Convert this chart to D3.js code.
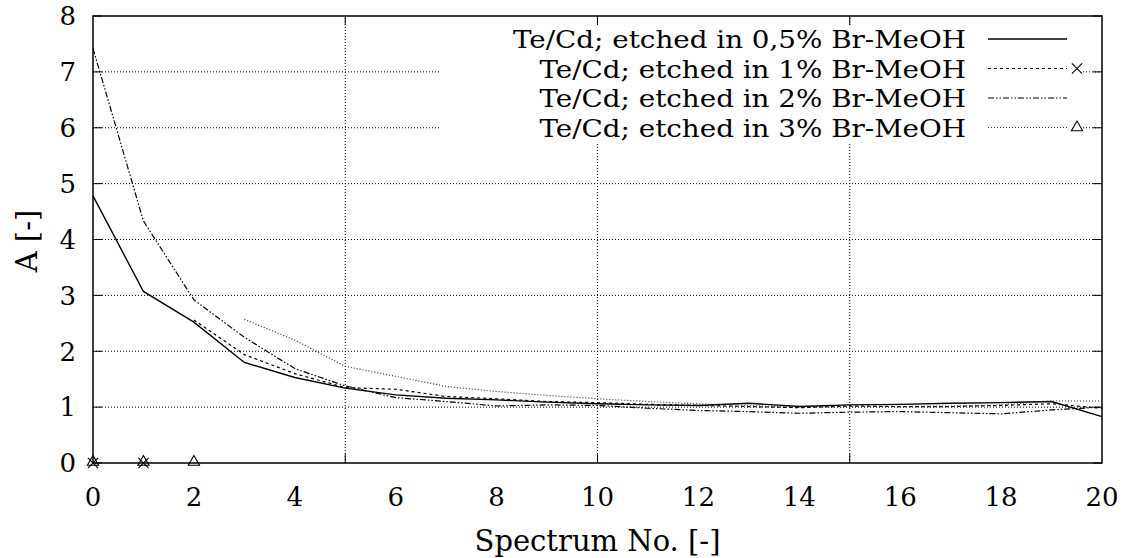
<!DOCTYPE html>
<html>
<head>
<meta charset="utf-8">
<script src="https://cdn.jsdelivr.net/npm/d3@7"></script>
<style>
  body { margin: 0; background: #fff; }
  text { font-family: "DejaVu Serif", serif; fill: #000; }
</style>
</head>
<body>
<svg id="chart" width="1126" height="558"></svg>
<script>
// spectrum numbers (x) and A for each etch
var spectrum = [0, 1, 2, 3, 4, 5, 6, 7, 8, 9, 10, 11, 12, 13, 14, 15, 16, 17, 18, 19, 20];

var a05 = [4.78, 3.07, 2.52, 1.80, 1.53, 1.34, 1.22, 1.16, 1.13, 1.09, 1.06, 1.04, 1.03, 1.07, 1.01, 1.04, 1.05, 1.07, 1.08, 1.10, 0.83];
var a1  = [null, null, 2.56, 1.94, 1.60, 1.35, 1.32, 1.19, 1.15, 1.10, 1.08, 1.05, 1.03, 1.01, 0.99, 1.02, 1.01, 1.01, 1.03, 1.06, 0.98];
var a2  = [7.42, 4.33, 2.92, 2.25, 1.69, 1.38, 1.17, 1.10, 1.02, 1.04, 1.03, 0.98, 0.94, 0.92, 0.89, 0.91, 0.92, 0.90, 0.88, 0.95, 1.00];
var a3  = [null, null, null, 2.57, 2.20, 1.73, 1.55, 1.37, 1.28, 1.21, 1.15, 1.10, 1.06, 1.03, 1.00, 1.00, 1.01, 1.02, 1.04, 1.11, 1.11];

// points that came out as zero
var zeroCross = [0, 1];
var zeroTri   = [0, 1, 2];

var legendNames = [
  "Te/Cd; etched in 0,5% Br-MeOH",
  "Te/Cd; etched in 1% Br-MeOH",
  "Te/Cd; etched in 2% Br-MeOH",
  "Te/Cd; etched in 3% Br-MeOH"
];

var xLabelTicks = [0, 2, 4, 6, 8, 10, 12, 14, 16, 18, 20];
var xGridTicks = [5, 10, 15];
var yTicks = [0, 1, 2, 3, 4, 5, 6, 7, 8];

var svg = d3.select("#chart");
var margin = {left: 93, right: 24, top: 16, bottom: 95};
var width = 1126, height = 558;
var x0 = margin.left, x1 = width - margin.right;
var y0 = height - margin.bottom, y1 = margin.top;

var x = d3.scaleLinear().domain([0, 20]).range([x0, x1]);
var y = d3.scaleLinear().domain([0, 8]).range([y0, y1]);

var tickSize = 26, labelSize = 29, keySize = 25;

// grid
var grid = svg.append("g").attr("class", "grid")
  .attr("stroke", "#000").attr("stroke-width", 1).attr("stroke-dasharray", "1,2");

grid.selectAll(".gx").data(xGridTicks).enter().append("line")
  .attr("x1", function(d){ return x(d); }).attr("x2", function(d){ return x(d); })
  .attr("y1", y0).attr("y2", y1);

grid.selectAll(".gy").data(yTicks.slice(1, 8)).enter().append("line")
  .attr("x1", x0).attr("x2", x1)
  .attr("y1", function(d){ return y(d); }).attr("y2", function(d){ return y(d); });

// key box is opaque, clears grid behind it
svg.append("rect")
  .attr("x", 440).attr("y", 25).attr("width", 642).attr("height", 118)
  .attr("fill", "#fff");

// tick marks on the border
var ticks = svg.append("g").attr("stroke", "#000").attr("stroke-width", 1);
yTicks.forEach(function(d){
  ticks.append("line").attr("x1", x0).attr("x2", x0 + 9).attr("y1", y(d)).attr("y2", y(d));
  ticks.append("line").attr("x1", x1 - 9).attr("x2", x1).attr("y1", y(d)).attr("y2", y(d));
});
xGridTicks.forEach(function(d){
  ticks.append("line").attr("x1", x(d)).attr("x2", x(d)).attr("y1", y0).attr("y2", y0 - 9);
  ticks.append("line").attr("x1", x(d)).attr("x2", x(d)).attr("y1", y1).attr("y2", y1 + 9);
});

// border
svg.append("rect")
  .attr("x", x0).attr("y", y1).attr("width", x1 - x0).attr("height", y0 - y1)
  .attr("fill", "none").attr("stroke", "#000").attr("stroke-width", 1.5);

// tick labels
svg.append("g").selectAll("text").data(yTicks).enter().append("text")
  .attr("x", 76).attr("y", function(d){ return y(d); })
  .attr("dy", "0.36em").attr("text-anchor", "end")
  .style("font-size", tickSize + "px")
  .text(function(d){ return d; });

svg.append("g").selectAll("text").data(xLabelTicks).enter().append("text")
  .attr("x", function(d){ return x(d); }).attr("y", 497)
  .attr("dy", "0.36em").attr("text-anchor", "middle")
  .style("font-size", tickSize + "px")
  .text(function(d){ return d; });

// axis titles
svg.append("text")
  .attr("x", (x0 + x1) / 2).attr("y", 541).attr("dy", "0.36em")
  .attr("text-anchor", "middle").style("font-size", labelSize + "px")
  .text("Spectrum No. [-]");

svg.append("text")
  .attr("transform", "translate(27,241) rotate(-90)")
  .attr("dy", "0.36em").attr("text-anchor", "middle").style("font-size", labelSize + "px")
  .text("A [-]");

// series
var styles = [
  {data: a05, dash: null,              width: 1.4, color: "#000"},
  {data: a1,  dash: "3,3",             width: 1.2, color: "#000"},
  {data: a2,  dash: "6,2,1.5,2,1.5,2", width: 1.2, color: "#000"},
  {data: a3,  dash: "1,2",             width: 1.2, color: "#333"}
];

var line = d3.line()
  .defined(function(d){ return d[1] != null; })
  .x(function(d){ return x(d[0]); })
  .y(function(d){ return y(d[1]); });

var plot = svg.append("g");
styles.forEach(function(s){
  plot.append("path")
    .attr("d", line(spectrum.map(function(v, i){ return [v, s.data[i]]; })))
    .attr("fill", "none")
    .attr("stroke", s.color)
    .attr("stroke-width", s.width)
    .attr("stroke-dasharray", s.dash);
});

var crossSym = d3.symbol().type(d3.symbolTimes || d3.symbolX).size(70);
var triSym = d3.symbol().type(d3.symbolTriangle).size(55);

plot.selectAll(".cross").data(zeroCross).enter().append("path")
  .attr("d", crossSym)
  .attr("transform", function(d){ return "translate(" + x(d) + "," + y(0) + ")"; })
  .attr("fill", "none").attr("stroke", "#000").attr("stroke-width", 1.1);

plot.selectAll(".tri").data(zeroTri).enter().append("path")
  .attr("d", triSym)
  .attr("transform", function(d){ return "translate(" + x(d) + "," + (y(0) - 1) + ")"; })
  .attr("fill", "none").attr("stroke", "#000").attr("stroke-width", 1.1);

// key (text is a bit wider than this font, so stretch it a little)
var rowY = [39, 68.5, 98, 127.5];
var key = svg.append("g");
legendNames.forEach(function(name, i){
  var t = key.append("text")
    .attr("x", 966).attr("y", rowY[i]).attr("dy", "0.36em")
    .attr("text-anchor", "end").style("font-size", keySize + "px")
    .text(name);
  var w = t.node().getComputedTextLength();
  t.attr("textLength", w * 1.11).attr("lengthAdjust", "spacingAndGlyphs");
  key.append("line")
    .attr("x1", 988).attr("x2", 1067).attr("y1", rowY[i]).attr("y2", rowY[i])
    .attr("stroke", styles[i].color).attr("stroke-width", styles[i].width)
    .attr("stroke-dasharray", styles[i].dash);
});
key.append("path").attr("d", crossSym)
  .attr("transform", "translate(1077," + rowY[1] + ")")
  .attr("fill", "none").attr("stroke", "#000").attr("stroke-width", 1.1);
key.append("path").attr("d", triSym)
  .attr("transform", "translate(1077," + rowY[3] + ")")
  .attr("fill", "none").attr("stroke", "#000").attr("stroke-width", 1.1);
</script>
</body>
</html>
